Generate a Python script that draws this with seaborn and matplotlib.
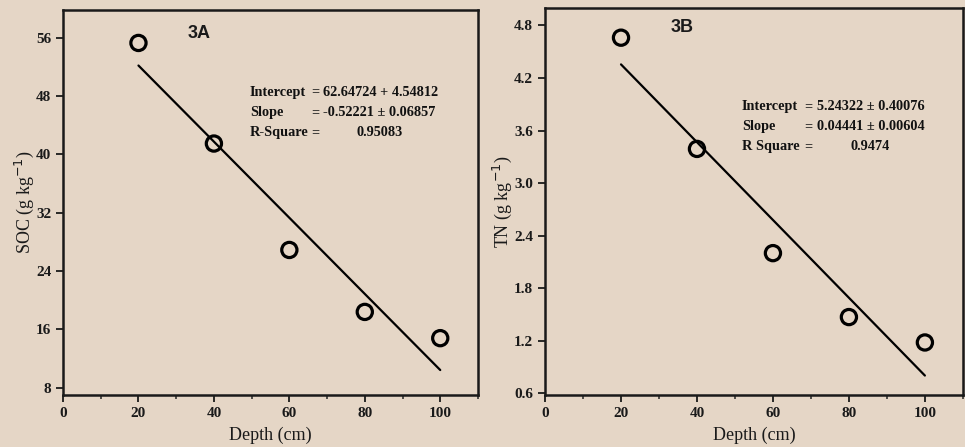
import numpy as np
import pandas as pd
import matplotlib
matplotlib.use("Agg")
import matplotlib.pyplot as plt
import seaborn as sns
from matplotlib.ticker import MultipleLocator

# ---- data ----
depth = [20, 40, 60, 80, 100]
soc = [55.3, 41.5, 26.9, 18.4, 14.8]
tn = [4.66, 3.39, 2.20, 1.47, 1.18]

soc_intercept = 62.64724
soc_slope = -0.52221
tn_intercept = 5.24322
tn_slope = -0.04441

soc_stats = [("Intercept", "=", "62.64724 + 4.54812"),
             ("Slope", "=", "-0.52221 ± 0.06857"),
             ("R-Square", "=", "0.95083")]
tn_stats = [("Intercept", "=", "5.24322 ± 0.40076"),
            ("Slope", "=", "0.04441 ± 0.00604"),
            ("R Square", "=", "0.9474")]

bg = "#E5D6C6"
sns.set_theme(style="ticks")
plt.rcParams["font.family"] = ["Liberation Serif", "DejaVu Serif"]

fig = plt.figure(figsize=(9.65, 4.47), dpi=100, facecolor=bg)
ax1 = fig.add_axes([0.0653, 0.1163, 0.430, 0.861])
ax2 = fig.add_axes([0.5648, 0.1163, 0.433, 0.866])

def panel(ax, y, icpt, slope, stats, label, ylabel, ylim, ymaj, yfmt, lab_xy,
          stat_x, stat_y, col2, col3, col3_last):
    ax.set_facecolor(bg)
    df = pd.DataFrame({"depth": depth, "val": y})
    xs = np.array([depth[0], depth[-1]])
    fit = pd.DataFrame({"depth": xs, "val": icpt + slope * xs})
    sns.lineplot(data=fit, x="depth", y="val", ax=ax, color="black", lw=1.6)
    sns.scatterplot(data=df, x="depth", y="val", ax=ax, marker="o", s=120,
                    facecolor="none", edgecolor="black", linewidth=2.3, zorder=5)
    ax.set_xlim(0, 110)
    ax.set_ylim(*ylim)
    ax.xaxis.set_major_locator(MultipleLocator(20))
    ax.xaxis.set_minor_locator(MultipleLocator(10))
    ax.set_yticks(ymaj)
    ax.set_yticklabels([yfmt.format(v) for v in ymaj])
    ax.tick_params(axis="both", which="major", direction="out", length=5, width=1.3,
                   labelsize=11, colors="#1a1a1a")
    ax.tick_params(axis="x", which="minor", direction="out", length=3, width=1.1)
    for lab in ax.get_xticklabels() + ax.get_yticklabels():
        lab.set_fontweight("bold")
    for s in ax.spines.values():
        s.set_linewidth(1.8)
        s.set_color("#1a1a1a")
    ax.set_xlabel("Depth (cm)", fontsize=13, labelpad=5, color="#1a1a1a")
    ax.set_ylabel(ylabel, fontsize=13, labelpad=0, color="#1a1a1a")
    ax.text(lab_xy[0], lab_xy[1], label, transform=ax.transAxes, fontsize=13,
            fontweight="bold", family="Liberation Sans", ha="left", va="center",
            color="#1a1a1a")
    for i, (a, b, c) in enumerate(stats):
        yy = stat_y - i * 0.052
        kw = dict(transform=ax.transAxes, fontsize=10.3, fontweight="bold",
                  va="center", color="#111111")
        ax.text(stat_x, yy, a, **kw)
        ax.text(col2, yy, b, **kw)
        ax.text(col3 if i < 2 else col3_last, yy, c, **kw)

panel(ax1, soc, soc_intercept, soc_slope, soc_stats, "3A", "SOC (g kg$^{-1}$)",
      (7, 59.8), [8, 16, 24, 32, 40, 48, 56], "{:.0f}", (0.30, 0.94),
      0.45, 0.787, 0.598, 0.627, 0.708)
panel(ax2, tn, tn_intercept, tn_slope, tn_stats, "3B", "TN (g kg$^{-1}$)",
      (0.58, 5.0), [0.6, 1.2, 1.8, 2.4, 3.0, 3.6, 4.2, 4.8], "{:.1f}", (0.30, 0.95),
      0.471, 0.745, 0.620, 0.652, 0.73)

fig.savefig("out.png", dpi=100, facecolor=bg)
